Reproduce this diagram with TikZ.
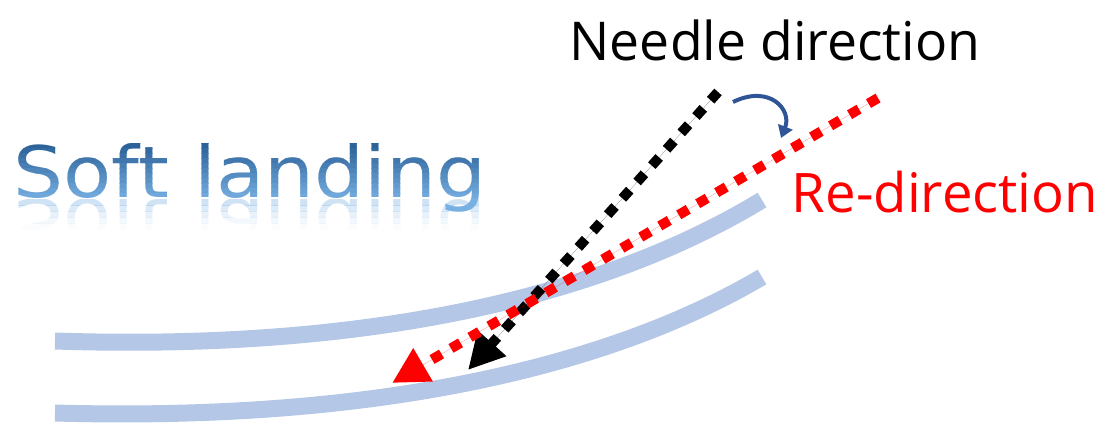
\documentclass[tikz,border=0pt]{standalone}
\usepackage{fontspec}
\setmainfont{DejaVu Sans}
\newfontfamily\labelfont{Open Sans}
\usetikzlibrary{arrows.meta}
\definecolor{vessel}{HTML}{B4C7E7}
\definecolor{softdark}{HTML}{255B92}
\definecolor{softlight}{HTML}{78B0E3}
\definecolor{curvblue}{HTML}{2F5597}
\newcommand{\softtext}{\scalebox{1.11}[1]{Soft landing}}
\newcommand{\softflip}{\scalebox{1.11}[-1]{Soft landing}}
\tikzset{
  vesselline/.style={draw=vessel, line width=17pt},
  dirline/.style={line width=10pt, dash pattern=on 11pt off 11pt, -{Triangle[length=36pt,width=36pt]}},
  bigfont/.style={font=\fontsize{71}{85}\selectfont, inner sep=0pt, anchor=base},
  labelstyle/.style={font=\labelfont\fontsize{#1}{#1}\selectfont, inner sep=0pt, anchor=base},
}
\begin{document}
\begin{tikzpicture}[x=1pt,y=-1pt]
\useasboundingbox (0,0) rectangle (1102,423);
% vessel walls
\draw[vesselline] (55,341) .. controls (450,354) and (660,262) .. (762,200);
\draw[vesselline] (55,413) .. controls (450,424) and (660,337) .. (762,277);
% direction lines
\coordinate (nstart) at (718,92);
\coordinate (ntip) at (468,370);
\coordinate (rstart) at (878,98);
\coordinate (rtip) at (392,383);
\draw[dirline, draw=black, fill=black] (nstart) -- (ntip);
\draw[dirline, draw=red, fill=red] (rstart) -- (rtip);
% curved arrow
\coordinate (cstart) at (733,102);
\coordinate (cend) at (781,138);
\draw[curvblue, line width=4pt, -{Triangle[length=12pt,width=15pt]}] (cstart) .. controls (770,84) and (792,110) .. (cend);
% labels
\node[labelstyle=53.5] (needle) at (775,60) {Needle direction};
\node[labelstyle=54.5, text=red] (redir) at (945,212) {Re-direction};
% Soft landing with vertical gradient
\foreach \i in {0,...,15} {
  \pgfmathsetmacro\ya{138+5*\i}
  \pgfmathtruncatemacro\p{min(100,100*\i/12)}
  \begin{scope}
    \clip (0,\ya) rectangle (520,\ya+5.6);
    \node[bigfont, text=softlight!\p!softdark] at (250,197) {\softtext};
  \end{scope}
}
\begin{scope}
  \clip (0,199) rectangle (520,230);
  \foreach \i/\o in {0/0.35,1/0.25,2/0.16,3/0.09,4/0.04} {
    \begin{scope}
      \clip (0,199+6*\i) rectangle (520,205.5+6*\i);
      \node[bigfont, text=softlight, opacity=\o] (soft\i) at (250,199) {\softflip};
    \end{scope}
  }
\end{scope}
\end{tikzpicture}
\end{document}
